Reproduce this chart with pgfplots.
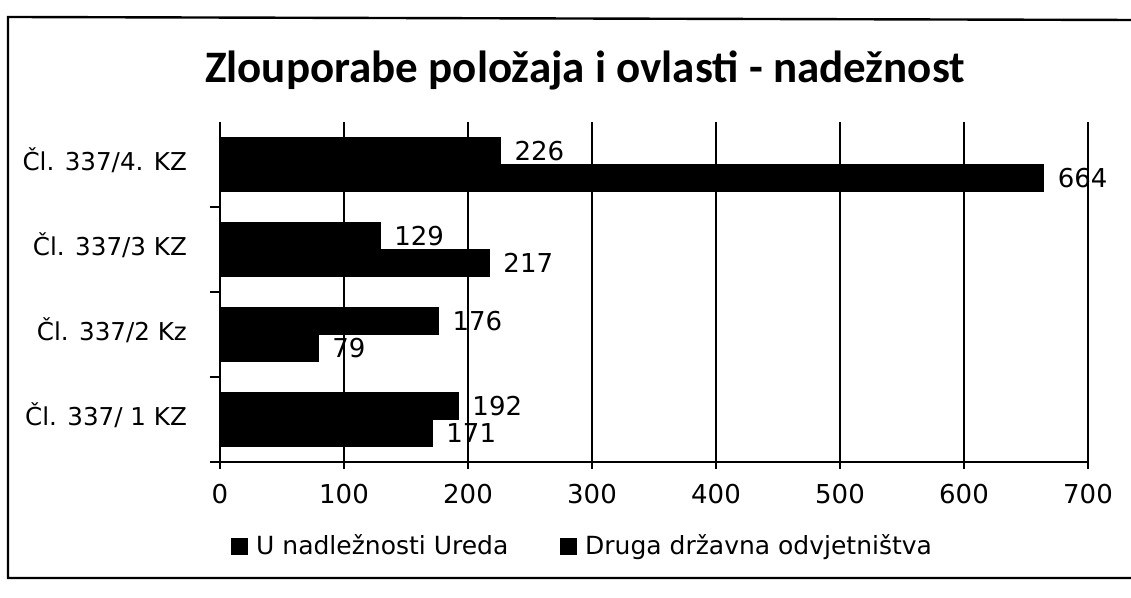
\documentclass[border=0pt]{standalone}
\usepackage{fontspec}
\setmainfont{Carlito}
\newfontfamily\dejavu{DejaVu Sans}
\usepackage{pgfplots}
\pgfplotsset{compat=1.18}
\begin{document}
\begin{tikzpicture}[x=0.5pt,y=0.5pt]
\useasboundingbox (0,0) rectangle (1131,598);
\draw[line width=1.2pt] (1131,578) -- (8,581) -- (8,20) -- (1131,20);
\node[font=\bfseries\fontsize{22.5}{26}\selectfont] at (585,528) {Zlouporabe položaja i ovlasti - nadežnost};
\begin{axis}[at={(110pt,68pt)}, anchor=south west, scale only axis,
  width=434pt, height=170pt,
  xbar, bar width=13.5pt,
  xmin=0, xmax=700, ymin=-0.5, ymax=3.5,
  xtick={0,100,...,700},
  xmajorgrids, grid style={black, line width=0.8pt},
  axis x line*=bottom, axis y line*=left,
  axis line style={black, line width=0.8pt, -},
  tick style={black, line width=0.8pt},
  x tick style={black, line width=0.8pt},
  tick align=outside, major tick length=7pt, minor tick length=5pt,
  xtick align=center,
  ytick={0,1,2,3},
  yticklabels={Čl. 337/ 1 KZ, Čl. 337/2 Kz, Čl. 337/3 KZ, Čl. 337/4. KZ},
  major y tick style={draw=none},
  minor ytick={-0.5,0.5,1.5,2.5},
  /pgf/number format/assume math mode=true,
  xticklabel style={font=\dejavu\fontsize{13}{13}\selectfont, yshift=-4pt},
  yticklabel style={font=\dejavu\fontsize{12.3}{13}\selectfont, xshift=-6pt, yshift=2pt},
  nodes near coords, nodes near coords align={horizontal},
  every node near coord/.append style={font=\dejavu\fontsize{13}{13}\selectfont, black, anchor=west, inner sep=2pt, xshift=5pt},
  legend style={at={(0.419,-0.247)}, anchor=center, draw=none, legend columns=2,
    font=\dejavu\fontsize{12.5}{13}\selectfont,
    /tikz/every odd column/.append style={column sep=2pt},
    /tikz/every even column/.append style={column sep=24pt}},
  legend image code/.code={\fill[black] (0pt,-4pt) rectangle (8pt,4pt);},
]
\addplot[fill=black, draw=black, bar shift=6.75pt] coordinates {(192,0) (176,1) (129,2) (226,3)};
\addplot[fill=black, draw=black, bar shift=-6.75pt] coordinates {(171,0) (79,1) (217,2) (664,3)};
\legend{U nadležnosti Ureda, Druga državna odvjetništva}
\end{axis}
\end{tikzpicture}
\end{document}
